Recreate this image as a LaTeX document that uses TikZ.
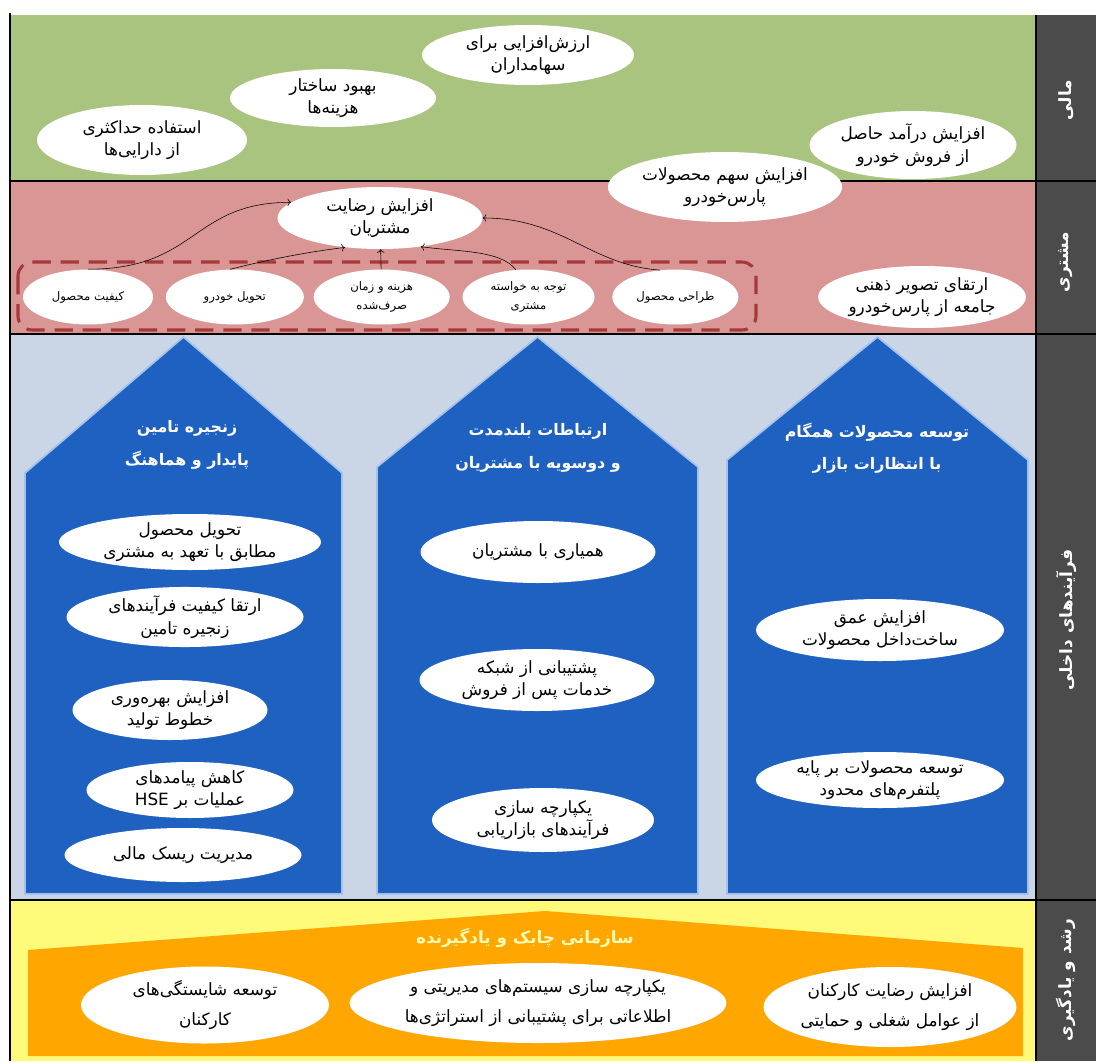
\documentclass[tikz,border=0pt]{standalone}
\usepackage{fontspec}
\newfontfamily\arabicfont[Script=Arabic]{DejaVu Sans}
\TeXXeTstate=1
\usepackage{tikz}
\usetikzlibrary{arrows.meta, shapes, positioning}

\definecolor{finGreen}{HTML}{A9C47F}
\definecolor{custPink}{HTML}{D99694}
\definecolor{procBlue}{HTML}{CAD5E6}
\definecolor{pillarBlue}{HTML}{1F61C0}
\definecolor{pillarEdge}{HTML}{A3C2EE}
\definecolor{growYellow}{HTML}{FFFA7A}
\definecolor{growOrange}{HTML}{FFA600}
\definecolor{sideGray}{HTML}{4B4B4B}
\definecolor{dashRed}{HTML}{A5383A}

\newcommand{\fa}[1]{\beginR #1\endR}

\begin{document}
\begin{tikzpicture}[x=0.025cm, y=-0.025cm, node distance=3.67cm, on grid,
	sz/.style 2 args={minimum width=#1*0.025cm, minimum height=#2*0.025cm},
	goal/.style={ellipse, fill=white, inner sep=0pt, align=center, font=\arabicfont\fontsize{12}{16}\selectfont},
	small/.style={goal, font=\arabicfont\fontsize{8.3}{13}\selectfont},
	pillar/.style={fill=pillarBlue, draw=pillarEdge, line width=1.2pt},
	head/.style={align=center, text=white, font=\arabicfont\bfseries\fontsize{11.3}{23}\selectfont},
	side/.style={rotate=90, text=white, font=\arabicfont\bfseries\fontsize{12}{14}\selectfont},
	link/.style={->, thin}]
	\useasboundingbox (0,0) rectangle (1096,1063);

	\fill[finGreen] (10,15) rectangle (1036,181);
	\fill[custPink] (10,181) rectangle (1036,334);
	\fill[procBlue] (10,334) rectangle (1036,900);
	\fill[growYellow] (10,900) rectangle (1036,1061);
	\fill[sideGray] (1036,15) rectangle (1096,1061);
	\draw[thick] (10,13) -- (10,1061);
	\draw[thick] (1036,15) -- (1036,1061);
	\foreach \y in {181,334,900}
		\draw[thick] (10,\y) -- (1096,\y);

	\node[side] (sfin) at (1066,100) {\fa{مالی}};
	\node[side] (scust) at (1066,262) {\fa{مشتری}};
	\node[side] (sproc) at (1066,620) {\fa{فرآیندهای داخلی}};
	\node[side] (sgrow) at (1066,980) {\fa{رشد و یادگیری}};

	% financial
	\node[goal, sz={212}{60}] (sh) at (528,55) {\fa{ارزش‌افزایی برای}\\\fa{سهامداران}};
	\node[goal, sz={206}{58}] (cost) at (333,98) {\fa{بهبود ساختار}\\\fa{هزینه‌ها}};
	\node[goal, sz={210}{70}] (asset) at (142,140) {\fa{استفاده حداکثری}\\\fa{از دارایی‌ها}};
	\node[goal, sz={207}{68}] (rev) at (913,145) {\fa{افزایش درآمد حاصل}\\\fa{از فروش خودرو}};
	\node[goal, sz={219}{70}] (share) at (725,187) {\fa{افزایش سهم محصولات}\\\fa{پارس‌خودرو}};

	% customer
	\node[goal, sz={205}{62}] (cs) at (380,218) {\fa{افزایش رضایت}\\\fa{مشتریان}};
	\draw[dashRed, line width=2.2pt, dash pattern=on 13pt off 7pt, rounded corners=10pt] (18,262) rectangle (756,330);
	\node[small, sz={130}{55}] (kq) at (88,297) {\fa{کیفیت محصول}};
	\node[small, sz={138}{55}, right=of kq] (tk) {\fa{تحویل خودرو}};
	\node[small, sz={136}{55}, right=of tk] (hz) {\fa{هزینه و زمان}\\\fa{صرف‌شده}};
	\node[small, sz={132}{55}, right=of hz] (tv) {\fa{توجه به خواسته}\\\fa{مشتری}};
	\node[small, sz={126}{55}, right=of tv] (tm) {\fa{طراحی محصول}};
	\node[goal, sz={207}{62}] (img) at (922,297) {\fa{ارتقای تصویر ذهنی}\\\fa{جامعه از پارس‌خودرو}};

	\draw[link] (kq.north) .. controls +(110,0) and +(-100,0) .. (cs.170);
	\draw[link] (tk.100) .. controls +(40,-10) and +(-40,5) .. (cs.220);
	\draw[link] (hz) -- (cs);
	\draw[link] (tv.115) .. controls +(-15,-20) and +(35,5) .. (cs.-35);
	\draw[link] (tm.120) .. controls +(-70,-5) and +(80,0) .. (cs.east);

	% internal processes
	\foreach \l/\r/\s in {25/342/473, 377/698/467, 727/1028/460}
		\draw[pillar] (\l,894) -- (\l,\s) -- ({(\l+\r)/2},337) -- (\r,\s) -- (\r,894) -- cycle;
	\node[head] (h1) at (187,445) {\fa{زنجیره تامین}\\\fa{پایدار و هماهنگ}};
	\node[head] (h2) at (538,448) {\fa{ارتباطات بلندمدت}\\\fa{و دوسویه با مشتریان}};
	\node[head] (h3) at (877,448) {\fa{توسعه محصولات همگام}\\\fa{با انتظارات بازار}};

	\node[goal, sz={262}{56}] (p1) at (190,542) {\fa{تحویل محصول}\\\fa{مطابق با تعهد به مشتری}};
	\node[goal, sz={237}{56}] (p2) at (185,617) {\fa{ارتقا کیفیت فرآیندهای}\\\fa{زنجیره تامین}};
	\node[goal, sz={195}{60}] (p3) at (170,710) {\fa{افزایش بهره‌وری}\\\fa{خطوط تولید}};
	\node[goal, sz={207}{56}] (p4) at (190,790) {\fa{کاهش پیامدهای}\\\fa{عملیات بر \beginL HSE\endL{}}};
	\node[goal, sz={237}{54}] (p5) at (183,855) {\fa{مدیریت ریسک مالی}};

	\node[goal, sz={235}{62}] (c1) at (538,552) {\fa{همیاری با مشتریان}};
	\node[goal, sz={235}{62}] (c2) at (537,680) {\fa{پشتیبانی از شبکه}\\\fa{خدمات پس از فروش}};
	\node[goal, sz={222}{64}] (c3) at (543,820) {\fa{یکپارچه سازی}\\\fa{فرآیندهای بازاریابی}};

	\node[goal, sz={248}{62}] (d1) at (880,630) {\fa{افزایش عمق}\\\fa{ساخت‌داخل محصولات}};
	\node[goal, sz={248}{56}] (d2) at (880,780) {\fa{توسعه محصولات بر پایه}\\\fa{پلتفرم‌های محدود}};

	% learning and growth
	\fill[growOrange] (28,1056) -- (28,950) -- (545,911) -- (1023,948) -- (1023,1056) -- cycle;
	\node[head, text=yellow!30!white, font=\arabicfont\bfseries\fontsize{12}{14}\selectfont] (gt) at (525,938) {\fa{سازمانی چابک و یادگیرنده}};
	\node[goal, sz={248}{77}, font=\arabicfont\fontsize{12}{21}\selectfont] (g1) at (205,1005) {\fa{توسعه شایستگی‌های}\\\fa{کارکنان}};
	\node[goal, sz={352}{80}, font=\arabicfont\fontsize{12}{21}\selectfont] (g2) at (538,1003) {\fa{یکپارچه سازی سیستم‌های مدیریتی و}\\\fa{اطلاعاتی برای پشتیبانی از استراتژی‌ها}};
	\node[goal, sz={248}{80}, font=\arabicfont\fontsize{12}{21}\selectfont] (g3) at (890,1007) {\fa{افزایش رضایت کارکنان}\\\fa{از عوامل شغلی و حمایتی}};
\end{tikzpicture}
\end{document}
